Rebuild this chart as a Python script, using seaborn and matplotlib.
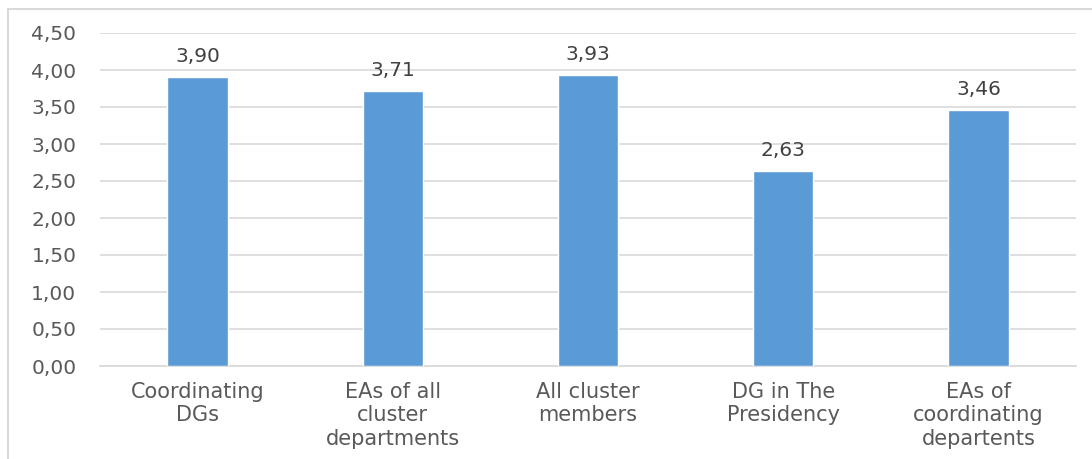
import matplotlib
matplotlib.use("Agg")
import matplotlib.pyplot as plt
import seaborn as sns
import pandas as pd
from matplotlib.patches import Rectangle

categories = ["Coordinating\nDGs", "EAs of all\ncluster\ndepartments", "All cluster\nmembers",
              "DG in The\nPresidency", "EAs of\ncoordinating\ndepartents"]
values = [3.90, 3.71, 3.93, 2.63, 3.46]
yticks = [0.0, 0.5, 1.0, 1.5, 2.0, 2.5, 3.0, 3.5, 4.0, 4.5]

sns.set_theme(style="white")
plt.rcParams['font.family'] = ['DejaVu Sans']

df = pd.DataFrame({"cat": categories, "val": values})

fig = plt.figure(figsize=(10.92, 4.59), dpi=100)
ax = fig.add_axes([100/1092, 1-366/459, (1076-100)/1092, (366-33)/459])

sns.barplot(data=df, x="cat", y="val", color="#5B9BD5", saturation=1, width=0.31, ax=ax, zorder=3)

ax.set_ylim(0, 4.5)
ax.set_yticks(yticks)
ax.set_yticklabels([f"{t:.2f}".replace(".", ",") for t in yticks])
ax.set_xlim(-0.5, len(categories) - 0.5)
ax.set_xlabel("")
ax.set_ylabel("")
ax.yaxis.grid(True, color="#D9D9D9", linewidth=1.2, zorder=0)
ax.set_axisbelow(True)
for s in ["top", "right", "left"]:
    ax.spines[s].set_visible(False)
ax.spines["bottom"].set_color("#D9D9D9")
ax.spines["bottom"].set_linewidth(1.2)
ax.tick_params(axis="y", length=0, labelsize=14.5, labelcolor="#595959", pad=17)
ax.tick_params(axis="x", length=0, labelsize=15, labelcolor="#595959", pad=11.5)
for lbl in ax.get_xticklabels():
    lbl.set_linespacing(1.22)

for c in ax.containers:
    ax.bar_label(c, labels=[f"{v:.2f}".replace(".", ",") for v in values],
                 padding=8, fontsize=14.5, color="#404040")

fig.patches.append(Rectangle((8/1092, -0.1), 1.2, 0.1 + (1 - 9/459), transform=fig.transFigure,
                             fill=False, edgecolor="#D9D9D9", linewidth=1.5))

fig.savefig("out.png", dpi=100)
